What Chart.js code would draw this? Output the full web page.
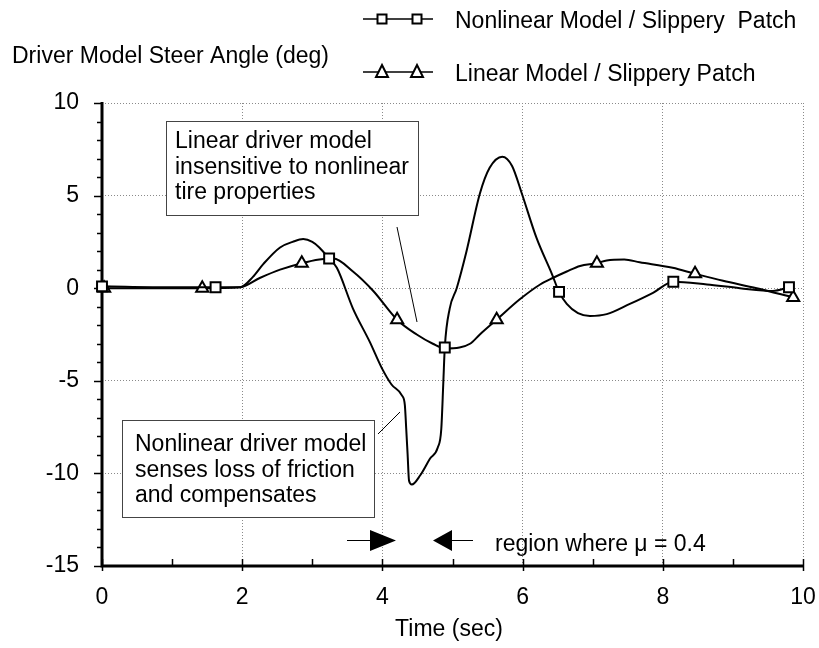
<!DOCTYPE html>
<html>
<head>
<meta charset="utf-8">
<script src="https://cdn.jsdelivr.net/npm/chart.js@4.4.1/dist/chart.umd.min.js"></script>
<style>
  html, body { margin: 0; padding: 0; background: #fff; }
  canvas { display: block; }
</style>
</head>
<body>
<canvas id="steerChart" width="819" height="648"></canvas>
<script>
// Time axis (sec) and steer angle (deg) for both driver models
const nlTime = [0, 1.0, 1.62, 1.97, 2.15, 2.3, 2.54, 2.72, 2.87, 3.0, 3.1, 3.24, 3.35, 3.58, 3.82, 3.99,
  4.13, 4.28, 4.32, 4.34, 4.36, 4.38, 4.42, 4.54, 4.68, 4.79, 4.84, 4.87, 4.89, 4.96, 5.06, 5.2,
  5.39, 5.53, 5.71, 5.85, 5.99, 6.2, 6.42, 6.52, 6.63, 6.79, 6.96, 7.2, 7.53, 7.86, 8.15, 8.63,
  9.1, 9.57, 9.8];
const nlAngle = [0.1, 0.05, 0.05, 0.05, 0.6, 1.3, 2.2, 2.5, 2.65, 2.5, 2.2, 1.6, 1.1, -1.1, -2.9, -4.3,
  -5.2, -5.8, -6.3, -7.6, -9.0, -10.4, -10.6, -10.1, -9.2, -8.6, -7.6, -5.0, -3.2, -1.1, 0.0, 2.0,
  5.1, 6.5, 7.1, 6.6, 5.1, 2.7, 0.75, -0.2, -0.85, -1.35, -1.5, -1.4, -0.85, -0.25, 0.35, 0.2,
  0.0, -0.15, 0.05];
const nlMarkers = [0, 1.62, 3.24, 4.89, 6.52, 8.15, 9.8];

const linTime = [0.03, 1.0, 1.43, 1.97, 2.25, 2.54, 2.85, 3.1, 3.3, 3.58, 3.87, 4.21, 4.49, 4.72, 4.89,
  5.1, 5.25, 5.39, 5.63, 5.96, 6.25, 6.43, 6.63, 6.82, 7.06, 7.2, 7.45, 7.67, 8.14, 8.46, 8.86,
  9.34, 9.86];
const linAngle = [0, 0, 0, 0.05, 0.55, 1.0, 1.35, 1.55, 1.6, 0.9, -0.15, -1.7, -2.5, -3.0, -3.25,
  -3.2, -3.0, -2.5, -1.7, -0.6, 0.2, 0.55, 0.9, 1.2, 1.35, 1.5, 1.55, 1.4, 1.1, 0.78, 0.4,
  0.0, -0.5];
const linMarkers = [0.03, 1.43, 2.85, 4.21, 5.63, 7.06, 8.46, 9.86];

const seriesNames = ['Nonlinear Model / Slippery  Patch', 'Linear Model / Slippery Patch'];
const xTicks = [0, 2, 4, 6, 8, 10];
const yTicks = [-15, -10, -5, 0, 5, 10];

const FONT = '"Liberation Sans", Arial, Helvetica, sans-serif';

function toPoints(xs, ys) {
  return xs.map((t, i) => ({ x: t, y: ys[i] }));
}

function markerRadius(times, r) {
  return ctx => (times.includes(ctx.raw && ctx.raw.x) ? r : 0);
}

// axes, tick marks, legend, notes and arrows drawn straight onto the canvas
const decorations = {
  id: 'decorations',
  beforeDatasetsDraw(chart) {
    const { ctx, chartArea: a, scales } = chart;
    ctx.save();
    ctx.strokeStyle = '#000';
    ctx.lineWidth = 1.5;
    for (let v = -15; v <= 10; v++) {
      const y = Math.round(scales.y.getPixelForValue(v)) + 0.5;
      ctx.beginPath();
      ctx.moveTo(a.left - (v % 5 === 0 ? 8 : 5), y);
      ctx.lineTo(a.left, y);
      ctx.stroke();
    }
    for (let t = 0; t <= 10; t++) {
      const x = Math.round(scales.x.getPixelForValue(t)) + 0.5;
      ctx.beginPath();
      ctx.moveTo(x, a.bottom - 7);
      ctx.lineTo(x, a.bottom + (t % 2 === 0 ? 5 : 0));
      ctx.stroke();
    }
    ctx.lineWidth = 3;
    ctx.beginPath();
    ctx.moveTo(a.left, a.top - 1);
    ctx.lineTo(a.left, a.bottom);
    ctx.lineTo(a.right + 1, a.bottom);
    ctx.stroke();
    ctx.restore();
  },
  afterDraw(chart) {
    const { ctx } = chart;
    ctx.save();
    ctx.fillStyle = '#000';
    ctx.strokeStyle = '#000';
    ctx.font = '23px ' + FONT;
    ctx.textBaseline = 'alphabetic';
    ctx.textAlign = 'left';

    // y axis title
    ctx.fillText('Driver Model Steer Angle (deg)', 12, 63);

    // legend
    const legendRows = [{ y: 19, base: 28, style: 'rect' }, { y: 72, base: 81, style: 'triangle' }];
    legendRows.forEach((row, i) => {
      ctx.lineWidth = 1.5;
      ctx.beginPath();
      ctx.moveTo(363, row.y);
      ctx.lineTo(433, row.y);
      ctx.stroke();
      [382, 417].forEach(mx => {
        ctx.lineWidth = 2;
        ctx.fillStyle = '#fff';
        ctx.beginPath();
        if (row.style === 'rect') {
          ctx.rect(mx - 4.5, row.y - 4.5, 9, 9);
        } else {
          ctx.moveTo(mx, row.y - 7);
          ctx.lineTo(mx + 6, row.y + 5);
          ctx.lineTo(mx - 6, row.y + 5);
          ctx.closePath();
        }
        ctx.fill();
        ctx.stroke();
      });
      ctx.fillStyle = '#000';
      ctx.fillText(seriesNames[i], 455, row.base);
    });

    // note boxes
    const notes = [
      { box: [166, 121, 252, 94], x: 175, base: 148, lines: ['Linear driver model', 'insensitive to nonlinear', 'tire properties'],
        leader: [397, 227, 417, 322] },
      { box: [122, 420, 252, 97], x: 135, base: 451, lines: ['Nonlinear driver model', 'senses loss of friction', 'and compensates'],
        leader: [378, 434, 400, 412] }
    ];
    notes.forEach(n => {
      ctx.fillStyle = '#fff';
      ctx.fillRect(n.box[0], n.box[1], n.box[2], n.box[3]);
      ctx.lineWidth = 1;
      ctx.strokeStyle = '#444';
      ctx.strokeRect(n.box[0] + 0.5, n.box[1] + 0.5, n.box[2], n.box[3]);
      ctx.fillStyle = '#000';
      n.lines.forEach((s, k) => ctx.fillText(s, n.x, n.base + k * 25.5));
      ctx.strokeStyle = '#000';
      ctx.beginPath();
      ctx.moveTo(n.leader[0], n.leader[1]);
      ctx.lineTo(n.leader[2], n.leader[3]);
      ctx.stroke();
    });

    // low-friction region arrows
    ctx.lineWidth = 1;
    ctx.beginPath();
    ctx.moveTo(347, 540.5); ctx.lineTo(372, 540.5);
    ctx.moveTo(450, 540.5); ctx.lineTo(473, 540.5);
    ctx.stroke();
    ctx.beginPath();
    ctx.moveTo(370, 530); ctx.lineTo(396, 540.5); ctx.lineTo(370, 551); ctx.closePath();
    ctx.moveTo(452, 530); ctx.lineTo(433, 540.5); ctx.lineTo(452, 551); ctx.closePath();
    ctx.fill();
    ctx.fillText('region where \u03bc = 0.4', 495, 551);

    // x axis title
    ctx.textAlign = 'center';
    ctx.fillText('Time (sec)', 449, 636);
    ctx.restore();
  }
};

new Chart(document.getElementById('steerChart'), {
  type: 'line',
  data: {
    datasets: [
      {
        label: seriesNames[0],
        data: toPoints(nlTime, nlAngle),
        borderColor: '#000',
        borderWidth: 2,
        cubicInterpolationMode: 'monotone',
        pointStyle: 'rect',
        pointRadius: markerRadius(nlMarkers, 7),
        pointBackgroundColor: '#fff',
        pointBorderColor: '#000',
        pointBorderWidth: 2,
        clip: false
      },
      {
        label: seriesNames[1],
        data: toPoints(linTime, linAngle),
        borderColor: '#000',
        borderWidth: 2,
        cubicInterpolationMode: 'monotone',
        pointStyle: 'triangle',
        pointRadius: markerRadius(linMarkers, 7),
        pointBackgroundColor: '#fff',
        pointBorderColor: '#000',
        pointBorderWidth: 2,
        clip: false
      }
    ]
  },
  options: {
    responsive: false,
    animation: false,
    layout: { padding: { left: 0, top: 103, right: 16, bottom: 0 } },
    plugins: { legend: { display: false }, tooltip: { enabled: false } },
    scales: {
      x: {
        type: 'linear',
        min: 0,
        max: 10,
        afterFit: s => { s.height = 82; s.paddingRight = 0; s.paddingLeft = 0; },
        afterBuildTicks: s => { s.ticks = xTicks.map(v => ({ value: v })); },
        ticks: { color: '#000', font: { family: FONT, size: 23 }, padding: 18, maxRotation: 0 },
        grid: { color: '#8a8a8a', lineWidth: 1, drawTicks: false },
        border: { display: false, dash: [1, 2] }
      },
      y: {
        min: -15,
        max: 10,
        afterFit: s => { s.width = 102; },
        afterBuildTicks: s => { s.ticks = yTicks.map(v => ({ value: v })); },
        ticks: { color: '#000', font: { family: FONT, size: 23 }, padding: 23 },
        grid: { color: '#8a8a8a', lineWidth: 1, drawTicks: false },
        border: { display: false, dash: [1, 2] }
      }
    }
  },
  plugins: [decorations]
});
</script>
</body>
</html>
